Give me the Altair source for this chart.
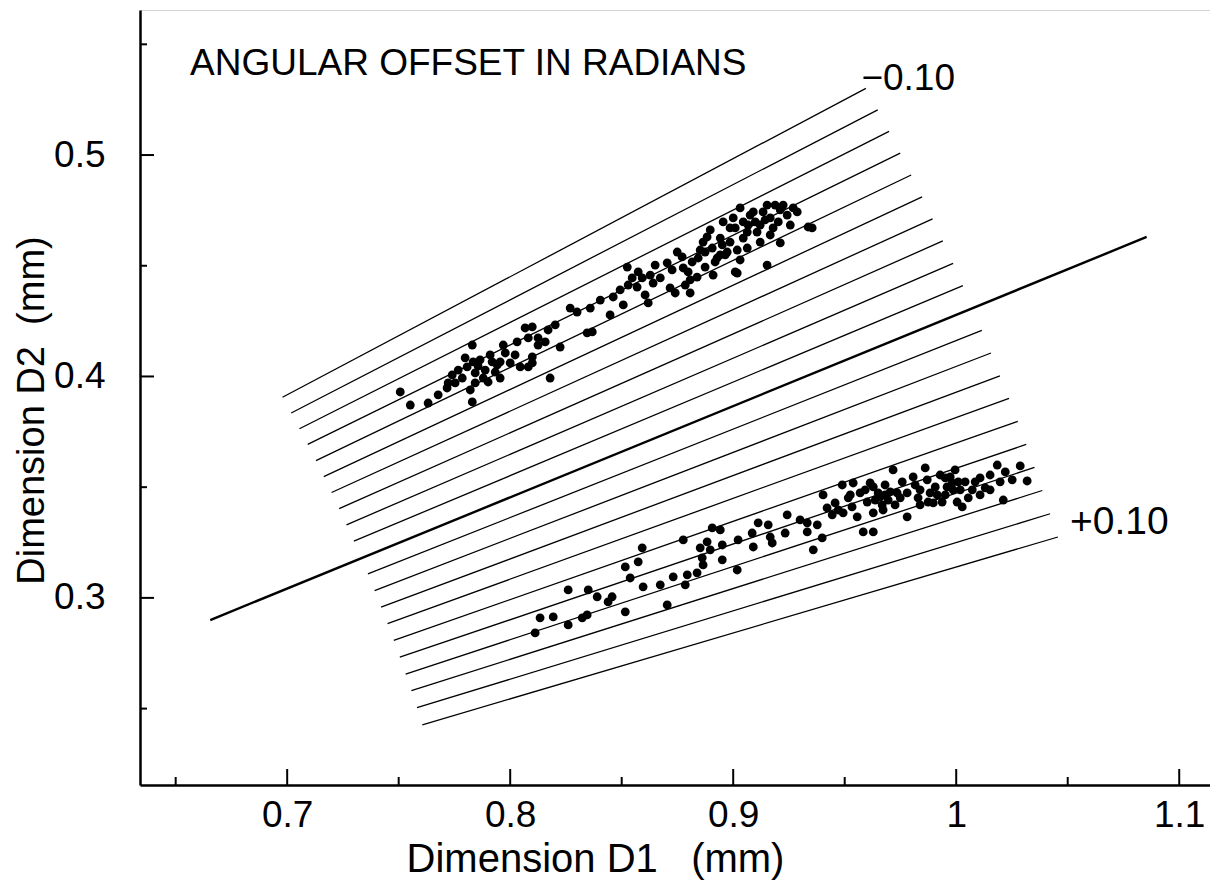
import altair as alt
import pandas as pd

# ---------------- data ----------------
upper_d1 = [0.7507, 0.7552, 0.7632, 0.7717, 0.7722, 0.7753, 0.7830, 0.7830, 0.7798, 0.7807,
            0.7834, 0.7843, 0.7865, 0.7888, 0.7879, 0.7843, 0.7919, 0.7933, 0.7955, 0.7901,
            0.7969, 0.7978, 0.8000, 0.7955, 0.8031, 0.8045, 0.8067, 0.8099, 0.8081, 0.8099,
            0.8125, 0.8125, 0.8081, 0.8099, 0.8170, 0.8179, 0.8224, 0.8269, 0.8300, 0.8359,
            0.8404, 0.8448, 0.8345, 0.8368, 0.8462, 0.8507, 0.8525, 0.8529, 0.8547, 0.8569,
            0.8574, 0.8592, 0.8605, 0.8619, 0.8628, 0.8641, 0.8673, 0.8704, 0.8717, 0.8740,
            0.8749, 0.8771, 0.8776, 0.8785, 0.8798, 0.8807, 0.8838, 0.8843, 0.8865, 0.8874,
            0.8883, 0.8906, 0.8910, 0.8928, 0.8951, 0.8964, 0.8986, 0.9009, 0.9018, 0.9045,
            0.9063, 0.8955, 0.8986, 0.9000, 0.9031, 0.9045, 0.9063, 0.9090, 0.9099, 0.9107,
            0.9121, 0.9152, 0.9166, 0.9179, 0.9188, 0.9211, 0.9224, 0.9242, 0.9269, 0.9287,
            0.9166, 0.9211, 0.9336, 0.9354, 0.9152, 0.9018, 0.8973, 0.8942, 0.7767, 0.7785,
            0.7910, 0.7821, 0.8022, 0.8897, 0.9076, 0.9121, 0.8919, 0.8852, 0.9134, 0.8202,
            0.8157, 0.7677, 0.8493, 0.8650, 0.8726, 0.8816, 0.9031, 0.9256, 0.7740, 0.7856,
            0.7942, 0.9009, 0.9067, 0.9143, 0.9202, 0.8942, 0.8874, 0.8807]
upper_d2 = [0.3930, 0.3871, 0.3880, 0.3948, 0.3971, 0.3971, 0.3885, 0.4142, 0.4084, 0.4043,
            0.4066, 0.4016, 0.4075, 0.4029, 0.3993, 0.3971, 0.4066, 0.4020, 0.3993, 0.3975,
            0.4142, 0.4106, 0.4061, 0.4066, 0.4156, 0.4043, 0.4219, 0.4224, 0.4174, 0.4088,
            0.4174, 0.4142, 0.4043, 0.4061, 0.4210, 0.3993, 0.4133, 0.4309, 0.4291, 0.4309,
            0.4345, 0.4278, 0.4197, 0.4201, 0.4359, 0.4323, 0.4494, 0.4413, 0.4445, 0.4404,
            0.4472, 0.4445, 0.4368, 0.4332, 0.4458, 0.4422, 0.4445, 0.4513, 0.4400, 0.4377,
            0.4562, 0.4540, 0.4490, 0.4413, 0.4472, 0.4377, 0.4449, 0.4535, 0.4607, 0.4494,
            0.4630, 0.4580, 0.4458, 0.4535, 0.4594, 0.4549, 0.4607, 0.4472, 0.4571, 0.4625,
            0.4580, 0.4698, 0.4671, 0.4716, 0.4761, 0.4698, 0.4652, 0.4743, 0.4698, 0.4652,
            0.4607, 0.4774, 0.4716, 0.4671, 0.4774, 0.4752, 0.4774, 0.4729, 0.4761, 0.4743,
            0.4639, 0.4603, 0.4675, 0.4671, 0.4503, 0.4467, 0.4562, 0.4625, 0.4029, 0.3993,
            0.4097, 0.3939, 0.4097, 0.4662, 0.4729, 0.4684, 0.4517, 0.4571, 0.4743, 0.4233,
            0.4156, 0.3917, 0.4391, 0.4503, 0.4481, 0.4517, 0.4526, 0.4684, 0.4007, 0.4047,
            0.4052, 0.4671, 0.4684, 0.4707, 0.4698, 0.4549, 0.4562, 0.4436]

lower_d1 = [0.8112, 0.8134, 0.8193, 0.8260, 0.8260, 0.8323, 0.8345, 0.8350, 0.8390, 0.8439,
            0.8457, 0.8516, 0.8516, 0.8538, 0.8574, 0.8592, 0.8596, 0.8673, 0.8704, 0.8731,
            0.8776, 0.8785, 0.8794, 0.8838, 0.8852, 0.8861, 0.8865, 0.8883, 0.8906, 0.8897,
            0.8942, 0.8951, 0.8951, 0.9018, 0.9022, 0.9085, 0.9090, 0.9112, 0.9157, 0.9166,
            0.9175, 0.9233, 0.9242, 0.9300, 0.9332, 0.9332, 0.9359, 0.9377, 0.9399, 0.9403,
            0.9421, 0.9444, 0.9457, 0.9489, 0.9493, 0.9516, 0.9533, 0.9538, 0.9556, 0.9569,
            0.9583, 0.9601, 0.9614, 0.9628, 0.9628, 0.9650, 0.9668, 0.9681, 0.9717, 0.9628,
            0.9659, 0.9672, 0.9758, 0.9780, 0.9780, 0.9838, 0.9861, 0.9870, 0.9874, 0.9906,
            0.9928, 0.9937, 0.9959, 0.9973, 0.9986, 1.0004, 1.0009, 1.0027, 1.0072, 1.0107,
            1.0184, 1.0251, 0.9695, 0.9735, 0.9807, 0.9897, 1.0287, 1.0318, 0.9592, 0.9704,
            0.9816, 0.9883, 0.9951, 1.0018, 1.0054, 1.0130, 1.0152, 1.0197, 1.0220, 0.9637,
            0.9726, 0.9829, 0.9525, 0.9471, 0.9951, 1.0085, 1.0211, 1.0152, 0.9995, 0.9749,
            0.9915, 0.9982, 1.0040, 0.9838, 0.9681, 1.0107]
lower_d2 = [0.2842, 0.2910, 0.2914, 0.3036, 0.2878, 0.2910, 0.2923, 0.3036, 0.3005, 0.2982,
            0.3005, 0.2937, 0.3140, 0.3090, 0.3163, 0.3226, 0.3050, 0.3059, 0.2968, 0.3095,
            0.3262, 0.3059, 0.3104, 0.3113, 0.3226, 0.3181, 0.3149, 0.3253, 0.3316, 0.3217,
            0.3307, 0.3239, 0.3172, 0.3126, 0.3262, 0.3293, 0.3230, 0.3339, 0.3330, 0.3275,
            0.3248, 0.3293, 0.3375, 0.3352, 0.3339, 0.3298, 0.3217, 0.3330, 0.3271, 0.3465,
            0.3406, 0.3375, 0.3429, 0.3510, 0.3384, 0.3452, 0.3411, 0.3519, 0.3366, 0.3474,
            0.3298, 0.3433, 0.3519, 0.3384, 0.3298, 0.3474, 0.3420, 0.3510, 0.3578, 0.3501,
            0.3456, 0.3397, 0.3524, 0.3474, 0.3366, 0.3488, 0.3587, 0.3533, 0.3433, 0.3501,
            0.3555, 0.3433, 0.3501, 0.3546, 0.3488, 0.3433, 0.3524, 0.3411, 0.3488, 0.3542,
            0.3600, 0.3533, 0.3442, 0.3474, 0.3546, 0.3429, 0.3596, 0.3528, 0.3488, 0.3479,
            0.3510, 0.3474, 0.3465, 0.3488, 0.3452, 0.3497, 0.3555, 0.3524, 0.3569, 0.3442,
            0.3420, 0.3452, 0.3465, 0.3397, 0.3542, 0.3524, 0.3442, 0.3488, 0.3578, 0.3452,
            0.3465, 0.3519, 0.3524, 0.3420, 0.3465, 0.3465]

# lines of constant angular offset (radians): start and end points
line_offset = [-0.10, -0.09, -0.08, -0.07, -0.06, -0.05, -0.04, -0.03, -0.02, -0.01, 0.00,
               0.01, 0.02, 0.03, 0.04, 0.05, 0.06, 0.07, 0.08, 0.09, 0.10]
line_d1_start = [0.6979, 0.7018, 0.7055, 0.7092, 0.7129, 0.7164, 0.7199, 0.7233, 0.7266, 0.7299,
                 0.6655, 0.7362, 0.7392, 0.7421, 0.7450, 0.7478, 0.7505, 0.7531, 0.7557, 0.7582, 0.7606]
line_d2_start = [0.3906, 0.3835, 0.3764, 0.3693, 0.3620, 0.3548, 0.3476, 0.3403, 0.3330, 0.3256,
                 0.2900, 0.3108, 0.3033, 0.2958, 0.2884, 0.2808, 0.2732, 0.2656, 0.2581, 0.2504, 0.2427]
line_d1_end = [0.9595, 0.9648, 0.9699, 0.9749, 0.9798, 0.9847, 0.9894, 0.9940, 0.9986, 1.0030,
               1.0854, 1.0115, 1.0156, 1.0196, 1.0237, 1.0276, 1.0314, 1.0351, 1.0386, 1.0421, 1.0456]
line_d2_end = [0.5301, 0.5204, 0.5107, 0.5009, 0.4910, 0.4811, 0.4712, 0.4612, 0.4511, 0.4410,
               0.4630, 0.4208, 0.4106, 0.4003, 0.3901, 0.3797, 0.3693, 0.3589, 0.3485, 0.3380, 0.3275]

x_major = [0.7, 0.8, 0.9, 1.0, 1.1]
x_minor = [0.65, 0.75, 0.85, 0.95, 1.05]
y_major = [0.3, 0.4, 0.5]
y_minor = [0.25, 0.35, 0.45, 0.55]

panel_title = ["ANGULAR OFFSET IN RADIANS"]
top_label = ["\u22120.10"]
bottom_label = ["+0.10"]
x_title = "Dimension D1\u00a0\u00a0 (mm)"
y_title = "Dimension D2\u00a0 (mm)"

# ---------------- chart ----------------
FONT = "Liberation Sans"
W, H = 1070, 775
xs = alt.Scale(domain=[0.634, 1.1138], nice=False, zero=False)
ys = alt.Scale(domain=[0.2155, 0.5655], nice=False, zero=False)

X_AX = alt.Axis(values=x_major, format="~g", ticks=False, grid=False,
                domainColor="black", domainWidth=2.5,
                labelFont=FONT, labelFontSize=37, labelColor="black", labelPadding=12,
                labelFlush=False, labelOverlap=False,
                title=x_title, titleFont=FONT, titleFontSize=40, titleFontWeight="normal",
                titleColor="black", titlePadding=6, titleX=455, titleAlign="center")
Y_AX = alt.Axis(values=y_major, format="~g", ticks=False, grid=False,
                domainColor="black", domainWidth=2.5,
                labelFont=FONT, labelFontSize=37, labelColor="black", labelPadding=35,
                labelFlush=False, labelOverlap=False,
                title=y_title, titleFont=FONT, titleFontSize=38, titleFontWeight="normal",
                titleColor="black", titlePadding=2, titleY=400, titleAlign="center")

lines_df = pd.DataFrame({"offset": line_offset, "d1": line_d1_start, "d2": line_d2_start,
                         "d1e": line_d1_end, "d2e": line_d2_end})
points_df = pd.DataFrame({"d1": upper_d1 + lower_d1, "d2": upper_d2 + lower_d2})

lines = alt.Chart(lines_df).mark_rule(color="black").encode(
    x=alt.X("d1:Q", scale=xs, axis=X_AX),
    y=alt.Y("d2:Q", scale=ys, axis=Y_AX),
    x2="d1e:Q", y2="d2e:Q",
    strokeWidth=alt.condition(alt.datum.offset == 0, alt.value(2.4), alt.value(1.3)),
)

points = alt.Chart(points_df).mark_circle(color="black", opacity=1, size=78).encode(
    x=alt.X("d1:Q", scale=xs, axis=X_AX),
    y=alt.Y("d2:Q", scale=ys, axis=Y_AX),
)

def xticks(vals, length):
    return alt.Chart(pd.DataFrame({"d1": vals})).mark_rule(color="black", strokeWidth=2).encode(
        x=alt.X("d1:Q", scale=xs, axis=X_AX), y=alt.value(H), y2=alt.value(H - length))

def yticks(vals, length):
    return alt.Chart(pd.DataFrame({"d2": vals})).mark_rule(color="black", strokeWidth=2).encode(
        y=alt.Y("d2:Q", scale=ys, axis=Y_AX), x=alt.value(0), x2=alt.value(length))

def label(txt, xp, yp, align, size=37):
    return alt.Chart(pd.DataFrame({"t": txt})).mark_text(
        font=FONT, fontSize=size, color="black", align=align, baseline="alphabetic"
    ).encode(text="t:N", x=alt.value(xp), y=alt.value(yp))

chart = alt.layer(
    lines, points,
    xticks(x_major, 16), xticks(x_minor, 8),
    yticks(y_major, 14), yticks(y_minor, 7),
    label(panel_title, 50, 65, "left"),
    label(top_label, 815, 80, "right"),
    label(bottom_label, 930, 524, "left", 39),
).properties(
    width=W, height=H,
    padding={"left": 140, "top": 10, "right": 0, "bottom": 105},
    autosize="none",
    background="white",
).configure_view(stroke="#d4d4d4", strokeWidth=1)

chart.save("out.html", embed_options={"renderer": "svg", "actions": False})
